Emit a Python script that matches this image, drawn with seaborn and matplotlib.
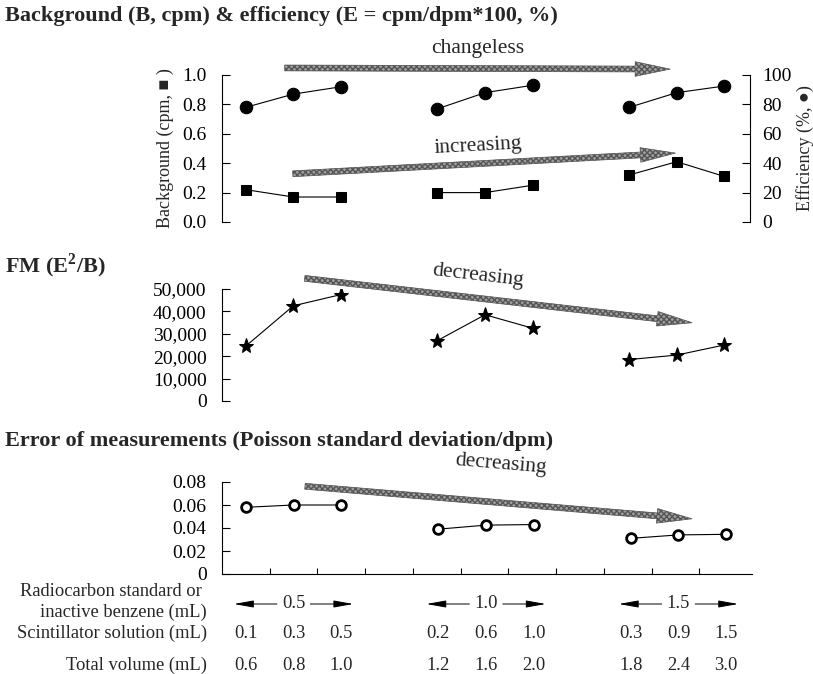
import numpy as np
import pandas as pd
import matplotlib
matplotlib.use("Agg")
import matplotlib.pyplot as plt
import seaborn as sns
from matplotlib.transforms import blended_transform_factory

# ---------------- data ----------------
benzene_ml = ["0.5", "1.0", "1.5"]
scintillator_ml = ["0.1", "0.3", "0.5", "0.2", "0.6", "1.0", "0.3", "0.9", "1.5"]
total_ml = ["0.6", "0.8", "1.0", "1.2", "1.6", "2.0", "1.8", "2.4", "3.0"]
background_cpm = [0.22, 0.17, 0.17, 0.20, 0.20, 0.25, 0.32, 0.41, 0.31]
efficiency_pct = [78, 87, 92, 77, 88, 93, 78, 88, 92.5]
fm_values = [24500, 42500, 47500, 27000, 38500, 32500, 18500, 20500, 25000]
error_values = [0.058, 0.060, 0.060, 0.039, 0.0425, 0.043, 0.031, 0.034, 0.0345]

sns.set_theme(style="ticks")
plt.rcParams["font.family"] = ["Liberation Serif", "DejaVu Sans"]
plt.rcParams["mathtext.fontset"] = "custom"
plt.rcParams["mathtext.rm"] = "Liberation Serif"
plt.rcParams["mathtext.bf"] = "Liberation Serif:bold"

group_gap = 4.03
idx = np.arange(len(background_cpm))
df = pd.DataFrame({
    "group": idx // 3,
    "x": (idx // 3) * group_gap + (idx % 3) + 0.5,
    "B": background_cpm,
    "E": efficiency_pct,
    "FM": fm_values,
    "ERR": error_values,
})

W, H = 813, 674
fig = plt.figure(figsize=(W / 100, H / 100), dpi=100)

def rect(x0, x1, ytop, ybot):
    return [x0 / W, 1 - ybot / H, (x1 - x0) / W, (ybot - ytop) / H]

XL = (0, 11.1)
TS = 14          # tick labels
LS = 13          # axis labels
AS = 15.5        # arrow labels
RS = 13.3        # table rows
TT = 16          # titles
line_kw = dict(color="black", lw=0.8, units="group", estimator=None)

arrow_kw = dict(arrowstyle="simple,head_length=3.6,head_width=1.5,tail_width=0.6",
                mutation_scale=7, fc="#a0a0a0", ec="#555555", lw=0.5, hatch="xxxxxx")

def grey_arrow(ax, start, end):
    ax.annotate("", xy=end, xytext=start, xycoords="data", textcoords="data",
                arrowprops=arrow_kw, annotation_clip=False)

def style_left(ax):
    ax.tick_params(axis="y", direction="in", length=6, width=0.8, pad=11,
                   labelsize=TS, colors="black")
    ax.spines["left"].set_linewidth(0.8)
    ax.spines["left"].set_color("black")

# ---------------- panel 1 ----------------
ax1 = fig.add_axes(rect(222, 750, 75, 222))
sns.lineplot(data=df, x="x", y="B", marker="s", ms=7, mec="black", ax=ax1, **line_kw)
ax1.set_xlim(*XL)
ax1.set_ylim(0, 1.0)
ax1.set_yticks([0, 0.2, 0.4, 0.6, 0.8, 1.0])
ax1.set_yticklabels(["0.0", "0.2", "0.4", "0.6", "0.8", "1.0"])
ax1.set_xticks([])
ax1.set_xlabel("")
ax1.set_ylabel("Background (cpm, ■ )", fontsize=LS, labelpad=6)
for s in ["top", "right", "bottom"]:
    ax1.spines[s].set_visible(False)
style_left(ax1)

ax1b = ax1.twinx()
sns.lineplot(data=df, x="x", y="E", marker="o", ms=9, mec="black", ax=ax1b, **line_kw)
ax1b.set_ylim(0, 100)
ax1b.set_yticks([0, 20, 40, 60, 80, 100])
ax1b.set_xticks([])
ax1b.set_xlabel("")
ax1b.set_ylabel("Efficiency (%, ●)", fontsize=LS, labelpad=3)
for s in ["top", "left", "bottom"]:
    ax1b.spines[s].set_visible(False)
ax1b.spines["right"].set_linewidth(0.8)
ax1b.spines["right"].set_color("black")
ax1b.tick_params(axis="y", direction="in", length=6, width=0.8, pad=9,
                 labelsize=TS, colors="black")

grey_arrow(ax1, (1.26, 1.048), (9.48, 1.04))
ax1.text(5.38, 1.18, "changeless", ha="center", va="center", fontsize=AS)
grey_arrow(ax1, (1.43, 0.327), (9.59, 0.47))
ax1.text(5.38, 0.515, "increasing", ha="center", va="center", fontsize=AS, rotation=3)

# ---------------- panel 2 ----------------
ax2 = fig.add_axes(rect(222, 750, 289, 401))
sns.lineplot(data=df, x="x", y="FM", marker="*", ms=11, mec="black", ax=ax2, **line_kw)
ax2.set_xlim(*XL)
ax2.set_ylim(0, 50000)
ax2.set_yticks([0, 10000, 20000, 30000, 40000, 50000])
ax2.set_yticklabels(["0", "10,000", "20,000", "30,000", "40,000", "50,000"])
ax2.set_xticks([])
ax2.set_xlabel("")
ax2.set_ylabel("")
for s in ["top", "right", "bottom"]:
    ax2.spines[s].set_visible(False)
style_left(ax2)
grey_arrow(ax2, (1.68, 54900), (9.94, 34800))
ax2.text(5.38, 56000, "decreasing", ha="center", va="center", fontsize=AS, rotation=-6.5)

# ---------------- panel 3 ----------------
ax3 = fig.add_axes(rect(222, 752, 482, 574))
sns.lineplot(data=df, x="x", y="ERR", marker="o", ms=7, mfc="white", mec="black",
             mew=2, ax=ax3, **line_kw)
ax3.set_xlim(*XL)
ax3.set_ylim(0, 0.08)
ax3.set_yticks([0, 0.02, 0.04, 0.06, 0.08])
ax3.set_yticklabels(["0", "0.02", "0.04", "0.06", "0.08"])
ax3.set_xticks(np.arange(1, 11))
ax3.tick_params(axis="x", direction="in", length=4, width=0.8, labelbottom=False,
                colors="black")
ax3.set_xlabel("")
ax3.set_ylabel("")
for s in ["top", "right"]:
    ax3.spines[s].set_visible(False)
ax3.spines["bottom"].set_linewidth(0.8)
ax3.spines["bottom"].set_color("black")
style_left(ax3)
grey_arrow(ax3, (1.68, 0.0765), (9.90, 0.0478))
ax3.text(5.84, 0.0955, "decreasing", ha="center", va="center", fontsize=AS, rotation=-4.8)

# ---------------- titles ----------------
fig.text(5 / W, 1 - 16 / H, "Background (B, cpm) & efficiency (E = cpm/dpm*100, %)",
         fontsize=TT, fontweight="bold", ha="left", va="center")
fig.text(5 / W, 1 - 266 / H, r"FM (E$^{\mathbf{2}}$/B)",
         fontsize=TT, fontweight="bold", ha="left", va="center")
fig.text(5 / W, 1 - 441 / H, "Error of measurements (Poisson standard deviation/dpm)",
         fontsize=TT, fontweight="bold", ha="left", va="center")

# ---------------- table under the x axis ----------------
tr = blended_transform_factory(ax3.transData, fig.transFigure)
lx = 207 / W
fig.text(lx - 5 / W, 1 - 591 / H, "Radiocarbon standard or", ha="right", va="center", fontsize=RS)
fig.text(lx, 1 - 612 / H, "inactive benzene (mL)", ha="right", va="center", fontsize=RS)
fig.text(lx, 1 - 633 / H, "Scintillator solution (mL)", ha="right", va="center", fontsize=RS)
fig.text(lx, 1 - 665 / H, "Total volume (mL)", ha="right", va="center", fontsize=RS)

yrow = 1 - 604 / H
for g, lab in enumerate(benzene_ml):
    cx = g * group_gap + 1.5
    ax3.text(cx, yrow, lab, transform=tr, ha="center", va="center", fontsize=RS)
    for a, b in [(cx - 0.35, cx - 1.25), (cx + 0.35, cx + 1.25)]:
        ax3.annotate("", xy=(b, yrow), xytext=(a, yrow), xycoords=tr, textcoords=tr,
                     arrowprops=dict(arrowstyle="-|>,head_length=1.0,head_width=0.18",
                                     color="black", lw=0.7, shrinkA=0, shrinkB=0),
                     annotation_clip=False)

for xv, s, t in zip(df["x"], scintillator_ml, total_ml):
    ax3.text(xv, 1 - 633 / H, s, transform=tr, ha="center", va="center", fontsize=RS)
    ax3.text(xv, 1 - 665 / H, t, transform=tr, ha="center", va="center", fontsize=RS)

fig.savefig("out.png", dpi=100)
